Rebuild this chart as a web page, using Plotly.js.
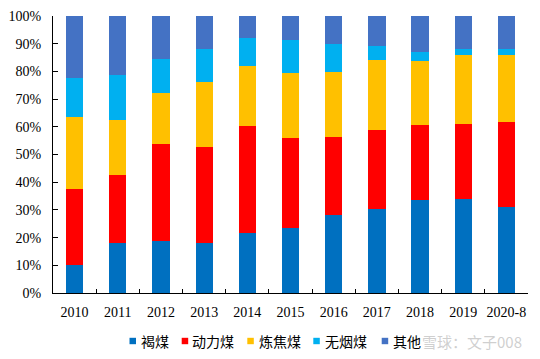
<!DOCTYPE html>
<html>
<head>
<meta charset="utf-8">
<script src="https://cdn.plot.ly/plotly-3.0.1.min.js"></script>
<style>html,body{margin:0;padding:0;background:#fff;}#chart{width:540px;height:359px;}</style>
</head>
<body>
<div id="chart"></div>
<script>
// Data (percent shares)
const categories = ['2010','2011','2012','2013','2014','2015','2016','2017','2018','2019','2020-8'];
const seriesNames = ['褐煤','动力煤','炼焦煤','无烟煤','其他'];
const lignite    = [10.0, 17.9, 18.6, 18.1, 21.7, 23.5, 28.2, 30.4, 33.6, 34.0, 31.2];
const thermal    = [27.7, 24.6, 35.1, 34.7, 38.7, 32.6, 28.2, 28.3, 27.0, 27.0, 30.6];
const coking     = [25.7, 20.0, 18.6, 23.2, 21.5, 23.3, 23.3, 25.3, 23.1, 24.8, 24.0];
const anthracite = [14.2, 16.1, 12.1, 12.0, 10.2, 11.8, 10.2,  5.1,  3.2,  2.2,  2.2];
const other      = [22.4, 21.4, 15.6, 12.0,  7.9,  8.8, 10.1, 10.9, 13.1, 12.0, 12.0];
const yTickVals  = [0,10,20,30,40,50,60,70,80,90,100];
const watermark  = '雪球：文子008';

// Styles
const colors = ['#0070C0','#FF0000','#FFC000','#00B0F0','#4472C4'];
const seriesValues = [lignite, thermal, coking, anthracite, other];

const traces = seriesValues.map((vals, i) => ({
  type: 'bar',
  name: seriesNames[i],
  x: categories,
  y: vals,
  marker: {color: colors[i], line: {width: 0}},
  showlegend: false,
  hoverinfo: 'skip'
}));

// plot area in pixels
const L = 53, R = 12, T = 16, B = 66, W = 540, H = 359;
const pw = W - L - R, ph = H - T - B;
const px = x => (x - L) / pw;
const py = y => (H - B - y) / ph;

// custom legend (pixel layout)
const legendMarkerX = [129.5, 181.7, 247.3, 313.3, 381.7];
const legendTextX = [139, 190, 256.7, 322.7, 391];
const legendY = 341;
const shapes = legendMarkerX.map((x, i) => ({
  type: 'rect', xref: 'paper', yref: 'paper',
  x0: px(x), x1: px(x + 6.5), y0: py(legendY + 3.2), y1: py(legendY - 3.2),
  fillcolor: colors[i], line: {width: 0}
}));
const annotations = legendTextX.map((x, i) => ({
  xref: 'paper', yref: 'paper', x: px(x), y: py(legendY),
  xanchor: 'left', yanchor: 'middle', showarrow: false,
  text: seriesNames[i],
  font: {family: '"Noto Sans CJK SC", sans-serif', size: 14, color: '#000'}
}));
annotations.push({
  xref: 'paper', yref: 'paper', x: px(524), y: py(legendY),
  xanchor: 'right', yanchor: 'middle', showarrow: false,
  text: watermark,
  font: {family: '"Noto Sans CJK SC", sans-serif', size: 15, color: 'rgba(160,160,160,0.5)'}
});

const layout = {
  width: W, height: H,
  margin: {l: L, r: R, t: T, b: B, pad: 0},
  paper_bgcolor: '#fff', plot_bgcolor: '#fff',
  barmode: 'stack',
  bargap: 0.6,
  font: {family: '"Liberation Serif", "Times New Roman", serif', size: 14, color: '#000'},
  xaxis: {
    type: 'category',
    tickson: 'boundaries',
    tickangle: 0,
    ticks: 'inside', ticklen: 4, tickcolor: '#000', tickwidth: 1,
    showline: true, linecolor: '#000', linewidth: 1,
    showgrid: false, zeroline: false,
    ticklabelstandoff: 6,
    tickfont: {family: '"Liberation Serif", "Times New Roman", serif', size: 14, color: '#000'}
  },
  yaxis: {
    range: [0, 100],
    tickvals: yTickVals,
    ticktext: yTickVals.map(v => v + '%'),
    ticks: 'inside', ticklen: 5, tickcolor: '#000', tickwidth: 1,
    showline: true, linecolor: '#000', linewidth: 1,
    showgrid: false, zeroline: false,
    ticklabelstandoff: 8,
    tickfont: {family: '"Liberation Serif", "Times New Roman", serif', size: 14, color: '#000'}
  },
  shapes: shapes,
  annotations: annotations
};

Plotly.newPlot('chart', traces, layout, {displayModeBar: false, staticPlot: true});
</script>
</body>
</html>
